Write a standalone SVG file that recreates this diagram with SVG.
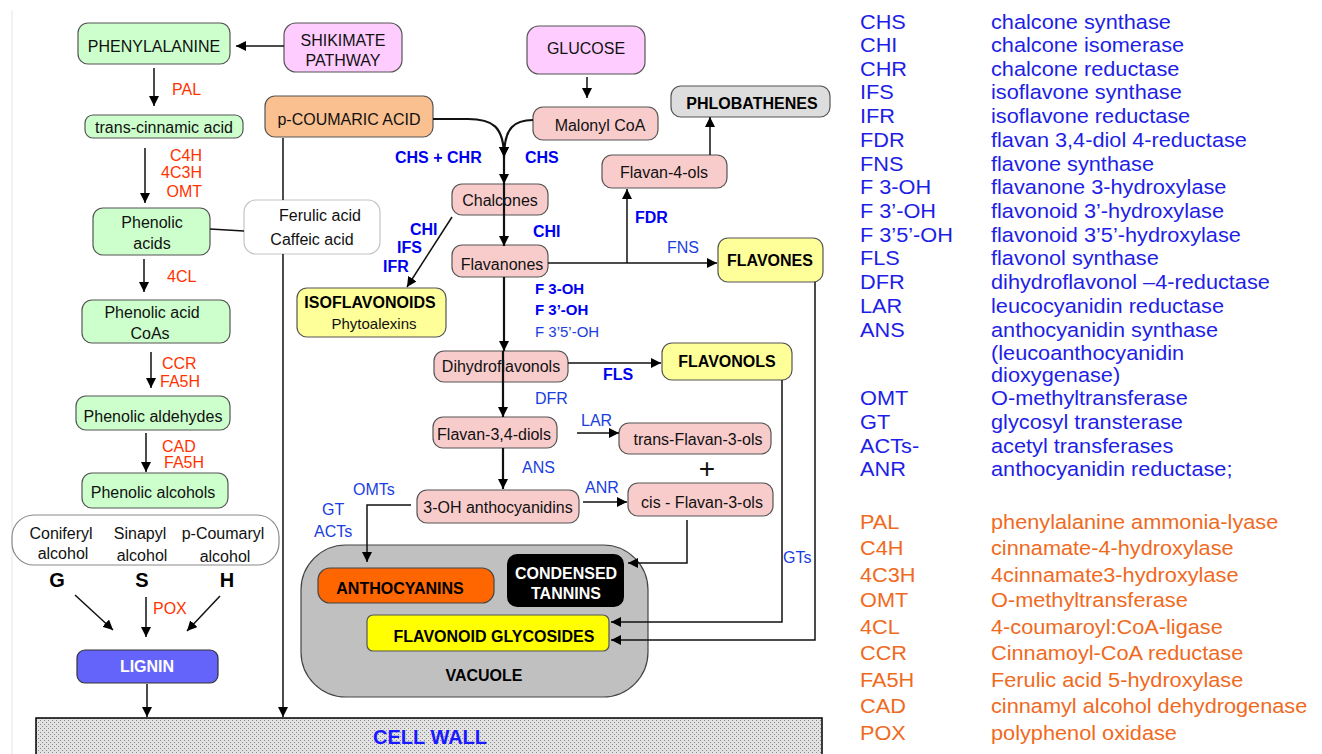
<svg xmlns="http://www.w3.org/2000/svg" width="1322" height="754" viewBox="0 0 1322 754">
<style>
text{font-family:"Liberation Sans",Arial,sans-serif;}
.n{font-size:16px;fill:#111;text-anchor:middle;}
.nb{font-size:16px;fill:#000;text-anchor:middle;font-weight:bold;}
.box{stroke:#555;stroke-width:1.2;}
.g{fill:#ccffcc;}
.pk{fill:#f9cccc;}
.mg{fill:#ffccff;}
.yl{fill:#ffff99;}
.red{font-size:16px;fill:#ff3300;}
.bb{font-size:16px;fill:#0000ee;font-weight:bold;}
.br{font-size:16px;fill:#1a3de0;}
.c{fill:none;stroke:#111;stroke-width:1.5;}
.ct{fill:none;stroke:#111;stroke-width:2.2;}
.lb{font-size:20.5px;fill:#1e1ee6;}
.lo{font-size:20.5px;fill:#f06a1e;}
</style>
<defs>
<marker id="ah" viewBox="0 0 10 10" refX="10" refY="5" markerWidth="10" markerHeight="10" markerUnits="userSpaceOnUse" orient="auto"><path d="M0,0 L10,5 L0,10 z" fill="#000"/></marker>
<pattern id="hatch" width="4" height="4" patternUnits="userSpaceOnUse"><rect width="4" height="4" fill="#e2e2e2"/><rect x="0" y="0" width="1" height="1" fill="#8a8a8a"/><rect x="2" y="2" width="1" height="1" fill="#8a8a8a"/></pattern>
</defs>
<rect width="1322" height="754" fill="#fff"/>
<line x1="12" y1="10" x2="12" y2="754" stroke="#e6e6e6" stroke-width="1"/>

<g id="cellwall"><rect x="36" y="718" width="786" height="42" fill="url(#hatch)" stroke="#000" stroke-width="1.5"/><text x="430" y="744" style="font-size:20px;font-weight:bold;fill:#1a1aff;text-anchor:middle">CELL WALL</text></g>

<g id="vacuole"><rect x="301" y="545" width="347" height="152" rx="45" fill="#c0c0c0" stroke="#444" stroke-width="1.2"/><text class="nb" x="484" y="681">VACUOLE</text></g>

<g id="phenylalanine"><rect class="box g" x="78" y="23" width="152" height="41" rx="10"/><text class="n" x="154" y="52">PHENYLALANINE</text></g>
<g id="shikimate"><rect class="box mg" x="284" y="23" width="118" height="49" rx="12"/><text class="n" x="343" y="46">SHIKIMATE</text><text class="n" x="343" y="66">PATHWAY</text></g>
<g id="trans-cinnamic"><rect class="box g" x="85" y="115" width="158" height="23" rx="8"/><text class="n" x="164" y="133">trans-cinnamic acid</text></g>
<g id="phenolic-acids"><rect class="box g" x="93" y="208" width="117" height="47" rx="10"/><text class="n" x="152" y="228">Phenolic</text><text class="n" x="152" y="249">acids</text></g>
<g id="ferulic"><rect x="244" y="200" width="136" height="54" rx="12" fill="#fff" stroke="#c4c4c4" stroke-width="1.2"/><text class="n" x="320" y="221">Ferulic acid</text><text class="n" x="312" y="245">Caffeic acid</text></g>
<g id="phenolic-coas"><rect class="box g" x="82" y="300" width="148" height="43" rx="10"/><text class="n" x="152" y="318">Phenolic acid</text><text class="n" x="150" y="339">CoAs</text></g>
<g id="phenolic-aldehydes"><rect class="box g" x="76" y="396" width="154" height="34" rx="10"/><text class="n" x="153" y="422">Phenolic aldehydes</text></g>
<g id="phenolic-alcohols"><rect class="box g" x="82" y="473" width="146" height="35" rx="10"/><text class="n" x="153" y="498">Phenolic alcohols</text></g>
<g id="monolignols"><rect x="12" y="515" width="267" height="50" rx="22" fill="#fff" stroke="#8a8a8a" stroke-width="1.2"/>
<text class="n" x="61" y="539">Coniferyl</text><text class="n" x="63" y="559">alcohol</text>
<text class="n" x="140" y="539">Sinapyl</text><text class="n" x="142" y="561">alcohol</text>
<text class="n" x="223" y="539">p-Coumaryl</text><text class="n" x="225" y="562">alcohol</text>
<text class="nb" x="57" y="587" style="font-size:20px">G</text><text class="nb" x="142" y="587" style="font-size:20px">S</text><text class="nb" x="227" y="587" style="font-size:20px">H</text></g>
<g id="lignin"><rect x="77" y="650" width="141" height="33" rx="8" fill="#6464fa" stroke="#333" stroke-width="1.2"/><text class="nb" x="147" y="672" style="fill:#fff">LIGNIN</text></g>

<g id="p-coumaric"><rect class="box" x="265" y="96" width="168" height="41" rx="10" fill="#fac08f"/><text class="n" x="349" y="125">p-COUMARIC ACID</text></g>
<g id="glucose"><rect class="box mg" x="527" y="26" width="118" height="48" rx="12"/><text class="n" x="586" y="54">GLUCOSE</text></g>
<g id="malonyl"><rect class="box pk" x="533" y="107" width="125" height="33" rx="10"/><text class="n" x="600" y="131">Malonyl CoA</text></g>
<g id="chalcones"><rect class="box pk" x="452" y="184" width="96" height="31" rx="10"/><text class="n" x="500" y="206">Chalcones</text></g>
<g id="flavanones"><rect class="box pk" x="452" y="245" width="96" height="32" rx="10"/><text class="n" x="502" y="270">Flavanones</text></g>
<g id="isoflavonoids"><rect class="box yl" x="297" y="288" width="149" height="49" rx="10"/><text class="nb" x="370" y="308">ISOFLAVONOIDS</text><text class="n" x="374" y="329" style="font-size:15px">Phytoalexins</text></g>
<g id="flavan-4-ols"><rect class="box pk" x="602" y="155" width="125" height="33" rx="10"/><text class="n" x="664" y="178">Flavan-4-ols</text></g>
<g id="phlobathenes"><rect class="box" x="671" y="86" width="159" height="31" rx="10" fill="#dddddd"/><text class="nb" x="752" y="109">PHLOBATHENES</text></g>
<g id="flavones"><rect class="box yl" x="718" y="238" width="105" height="44" rx="10"/><text class="nb" x="770" y="266">FLAVONES</text></g>
<g id="dihydroflavonols"><rect class="box pk" x="434" y="351" width="134" height="31" rx="10"/><text class="n" x="501" y="372">Dihydroflavonols</text></g>
<g id="flavonols"><rect class="box yl" x="662" y="343" width="130" height="37" rx="10"/><text class="nb" x="727" y="367">FLAVONOLS</text></g>
<g id="flavan-3-4-diols"><rect class="box pk" x="433" y="417" width="124" height="31" rx="10"/><text class="n" x="494" y="440">Flavan-3,4-diols</text></g>
<g id="trans-flavan-3-ols"><rect class="box pk" x="619" y="423" width="152" height="31" rx="10"/><text class="n" x="698" y="445">trans-Flavan-3-ols</text></g>
<g id="plus"><text x="707" y="478" style="font-size:28px;fill:#111;text-anchor:middle">+</text></g>
<g id="anthocyanidins"><rect class="box pk" x="417" y="490" width="162" height="33" rx="10"/><text class="n" x="498" y="513">3-OH anthocyanidins</text></g>
<g id="cis-flavan-3-ols"><rect class="box pk" x="628" y="483" width="145" height="33" rx="10"/><text class="n" x="702" y="508">cis - Flavan-3-ols</text></g>
<g id="anthocyanins"><rect x="318" y="568" width="176" height="35" rx="12" fill="#ff6600" stroke="#444" stroke-width="1.2"/><text class="nb" x="400" y="594">ANTHOCYANINS</text></g>
<g id="tannins"><rect x="507" y="554" width="117" height="53" rx="10" fill="#000"/><text class="nb" x="566" y="579" style="fill:#fff">CONDENSED</text><text class="nb" x="566" y="599" style="fill:#fff">TANNINS</text></g>
<g id="glycosides"><rect x="367" y="615" width="242" height="36" rx="6" fill="#ffff00" stroke="#555" stroke-width="1.2"/><text class="nb" x="494" y="642">FLAVONOID GLYCOSIDES</text></g>

<g id="connectors">
<path class="c" d="M284,46 L236,46" marker-end="url(#ah)"/>
<path class="c" d="M154,68 L154,106" marker-end="url(#ah)"/>
<path class="c" d="M145,148 L145,203" marker-end="url(#ah)"/>
<path class="c" d="M210,229 L244,231"/>
<path class="c" d="M144,259 L144,292" marker-end="url(#ah)"/>
<path class="c" d="M151,352 L151,388" marker-end="url(#ah)"/>
<path class="c" d="M146,433 L146,472" marker-end="url(#ah)"/>
<path class="c" d="M75,595 L113,630" marker-end="url(#ah)"/>
<path class="c" d="M146,597 L146,637" marker-end="url(#ah)"/>
<path class="c" d="M220,596 L187,631" marker-end="url(#ah)"/>
<path class="c" d="M147,684 L147,717" marker-end="url(#ah)"/>
<path class="c" d="M283,138 L283,200"/>
<path class="c" d="M283,254 L283,717" marker-end="url(#ah)"/>
<path class="c" d="M587,77 L587,98" marker-end="url(#ah)"/>
<path class="ct" d="M433,119 L468,119 C492,119 504,126 504,157" marker-end="url(#ah)"/>
<path class="ct" d="M533,120 C515,120 504,127 504,157" marker-end="url(#ah)"/>
<path class="ct" d="M504,157 L504,184" marker-end="url(#ah)"/>
<path class="ct" d="M504,184 L504,246" marker-end="url(#ah)"/>
<path class="c" d="M452,217 L407,287" marker-end="url(#ah)"/>
<path class="c" d="M548,263 L717,263" marker-end="url(#ah)"/>
<path class="c" d="M627,263 L627,189" marker-end="url(#ah)"/>
<path class="c" d="M710,155 L710,117" marker-end="url(#ah)"/>
<path class="ct" d="M504,277 L504,351" marker-end="url(#ah)"/>
<path class="ct" d="M503,351 L503,417" marker-end="url(#ah)"/>
<path class="c" d="M568,363 L661,363" marker-end="url(#ah)"/>
<path class="c" d="M577,433 L619,433" marker-end="url(#ah)"/>
<path class="ct" d="M503,448 L503,489" marker-end="url(#ah)"/>
<path class="c" d="M583,502 L627,502" marker-end="url(#ah)"/>
<path class="c" d="M411,505 L367,505 L367,562" marker-end="url(#ah)"/>
<path class="c" d="M687,520 L687,563 L628,563" marker-end="url(#ah)"/>
<path class="c" d="M782,380 L782,622 L611,622" marker-end="url(#ah)"/>
<path class="c" d="M815,282 L815,640 L611,640" marker-end="url(#ah)"/>
</g>

<g id="enzyme-labels">
<text class="red" x="172" y="95">PAL</text>
<text class="red" x="202" y="161" text-anchor="end">C4H</text>
<text class="red" x="202" y="178" text-anchor="end">4C3H</text>
<text class="red" x="202" y="197" text-anchor="end">OMT</text>
<text class="red" x="167" y="282">4CL</text>
<text class="red" x="162" y="369">CCR</text>
<text class="red" x="160" y="387">FA5H</text>
<text class="red" x="162" y="452">CAD</text>
<text class="red" x="164" y="468">FA5H</text>
<text class="red" x="153" y="614">POX</text>
<text class="bb" x="395" y="163">CHS + CHR</text>
<text class="bb" x="525" y="163">CHS</text>
<text class="bb" x="410" y="235">CHI</text>
<text class="bb" x="397" y="253">IFS</text>
<text class="bb" x="383" y="272">IFR</text>
<text class="bb" x="533" y="237">CHI</text>
<text class="bb" x="635" y="223">FDR</text>
<text class="br" x="667" y="253">FNS</text>
<text class="bb" x="535" y="294" style="font-size:15px">F 3-OH</text>
<text class="bb" x="535" y="315" style="font-size:15px">F 3’-OH</text>
<text class="br" x="535" y="337" style="font-size:15px">F 3’5’-OH</text>
<text class="bb" x="603" y="380">FLS</text>
<text class="br" x="535" y="404">DFR</text>
<text class="br" x="581" y="426">LAR</text>
<text class="br" x="522" y="473">ANS</text>
<text class="br" x="585" y="493">ANR</text>
<text class="br" x="353" y="495">OMTs</text>
<text class="br" x="322" y="515">GT</text>
<text class="br" x="314" y="537">ACTs</text>
<text class="br" x="783" y="563">GTs</text>
</g>

<g id="legend" transform="translate(860,0) scale(1.06,1) translate(-860,0)">
<text class="lb" x="860" y="29">CHS</text><text class="lb" x="983.6" y="29">chalcone synthase</text>
<text class="lb" x="860" y="52">CHI</text><text class="lb" x="983.6" y="52">chalcone isomerase</text>
<text class="lb" x="860" y="76">CHR</text><text class="lb" x="983.6" y="76">chalcone reductase</text>
<text class="lb" x="860" y="99">IFS</text><text class="lb" x="983.6" y="99">isoflavone synthase</text>
<text class="lb" x="860" y="123">IFR</text><text class="lb" x="983.6" y="123">isoflavone reductase</text>
<text class="lb" x="860" y="147">FDR</text><text class="lb" x="983.6" y="147">flavan 3,4-diol 4-reductase</text>
<text class="lb" x="860" y="171">FNS</text><text class="lb" x="983.6" y="171">flavone synthase</text>
<text class="lb" x="860" y="194">F 3-OH</text><text class="lb" x="983.6" y="194">flavanone 3-hydroxylase</text>
<text class="lb" x="860" y="218">F 3’-OH</text><text class="lb" x="983.6" y="218">flavonoid 3’-hydroxylase</text>
<text class="lb" x="860" y="242">F 3’5’-OH</text><text class="lb" x="983.6" y="242">flavonoid 3’5’-hydroxylase</text>
<text class="lb" x="860" y="265">FLS</text><text class="lb" x="983.6" y="265">flavonol synthase</text>
<text class="lb" x="860" y="289">DFR</text><text class="lb" x="983.6" y="289">dihydroflavonol –4-reductase</text>
<text class="lb" x="860" y="313">LAR</text><text class="lb" x="983.6" y="313">leucocyanidin reductase</text>
<text class="lb" x="860" y="337">ANS</text><text class="lb" x="983.6" y="337">anthocyanidin synthase</text>
<text class="lb" x="983.6" y="360">(leucoanthocyanidin</text>
<text class="lb" x="983.6" y="382">dioxygenase)</text>
<text class="lb" x="860" y="405">OMT</text><text class="lb" x="983.6" y="405">O-methyltransferase</text>
<text class="lb" x="860" y="429">GT</text><text class="lb" x="983.6" y="429">glycosyl transterase</text>
<text class="lb" x="860" y="453">ACTs-</text><text class="lb" x="983.6" y="453">acetyl transferases</text>
<text class="lb" x="860" y="476">ANR</text><text class="lb" x="983.6" y="476">anthocyanidin reductase;</text>
<text class="lo" x="860" y="529">PAL</text><text class="lo" x="983.6" y="529">phenylalanine ammonia-lyase</text>
<text class="lo" x="860" y="555">C4H</text><text class="lo" x="983.6" y="555">cinnamate-4-hydroxylase</text>
<text class="lo" x="860" y="582">4C3H</text><text class="lo" x="983.6" y="582">4cinnamate3-hydroxylase</text>
<text class="lo" x="860" y="607">OMT</text><text class="lo" x="983.6" y="607">O-methyltransferase</text>
<text class="lo" x="860" y="634">4CL</text><text class="lo" x="983.6" y="634">4-coumaroyl:CoA-ligase</text>
<text class="lo" x="860" y="660">CCR</text><text class="lo" x="983.6" y="660">Cinnamoyl-CoA reductase</text>
<text class="lo" x="860" y="687">FA5H</text><text class="lo" x="983.6" y="687">Ferulic acid 5-hydroxylase</text>
<text class="lo" x="860" y="713">CAD</text><text class="lo" x="983.6" y="713">cinnamyl alcohol dehydrogenase</text>
<text class="lo" x="860" y="740">POX</text><text class="lo" x="983.6" y="740">polyphenol oxidase</text>
</g>
</svg>
